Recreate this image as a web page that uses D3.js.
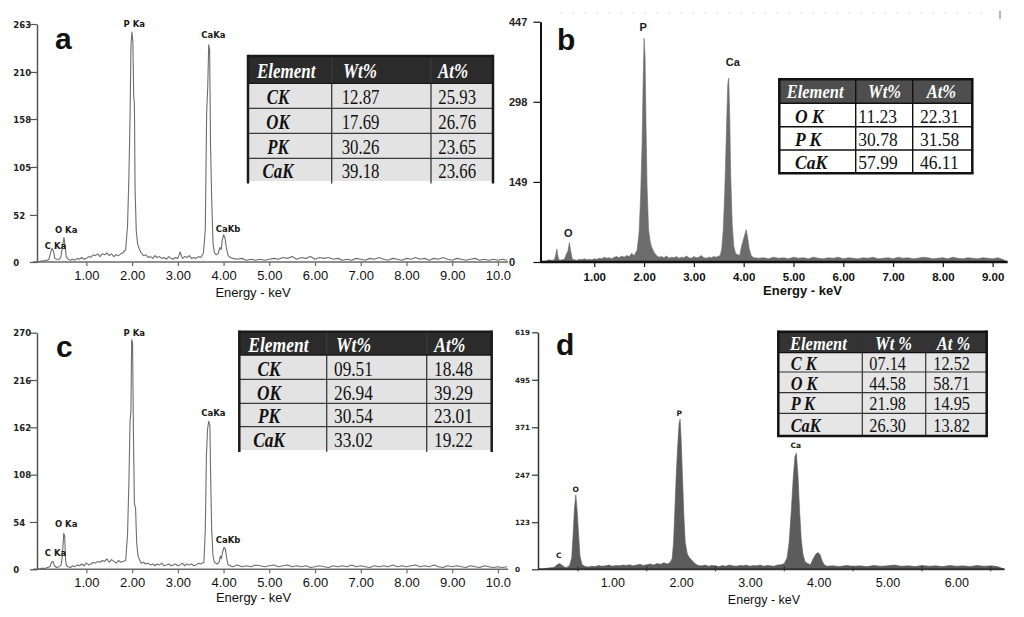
<!DOCTYPE html>
<html><head><meta charset="utf-8">
<script src="https://cdn.jsdelivr.net/npm/d3@7"></script>
<style>body{margin:0;background:#fff}svg{display:block}</style>
</head><body><svg id="c" width="1024" height="617"></svg>
<script>
// ---------------- DATA ----------------
// spectra: [energy keV, counts]
const specA = [[-0.05,0],[0.0,1],[0.05,1],[0.1,2],[0.15,2],[0.18,3],[0.22,11],[0.25,15],[0.28,12],[0.31,4],[0.35,3],[0.40,3],[0.44,5],[0.48,18],[0.51,27],[0.53,20],[0.56,6],[0.6,3],[0.65,2],[0.7,3],[0.75,2],[0.8,4],[0.85,3],[0.9,5],[0.95,3],[1.0,4],[1.05,6],[1.1,5],[1.15,8],[1.2,7],[1.25,9],[1.3,6],[1.35,9],[1.4,8],[1.45,10],[1.5,7],[1.55,9],[1.6,6],[1.65,8],[1.7,7],[1.75,9],[1.8,10],[1.86,14],[1.90,40],[1.93,95],[1.955,160],[1.975,240],[1.995,254],[2.015,245],[2.035,183],[2.05,175],[2.065,80],[2.09,35],[2.12,20],[2.16,14],[2.2,10],[2.25,7],[2.3,8],[2.35,5],[2.4,6],[2.45,4],[2.5,7],[2.55,5],[2.6,6],[2.65,4],[2.7,5],[2.75,3],[2.8,6],[2.85,4],[2.9,3],[2.95,5],[3.0,4],[3.05,11],[3.1,4],[3.15,6],[3.2,5],[3.25,7],[3.3,4],[3.35,5],[3.4,4],[3.45,6],[3.5,5],[3.56,10],[3.60,35],[3.63,165],[3.655,195],[3.675,240],[3.695,235],[3.715,130],[3.74,70],[3.77,20],[3.80,10],[3.84,8],[3.88,9],[3.92,16],[3.95,14],[3.97,24],[4.0,30],[4.03,27],[4.06,16],[4.1,7],[4.15,5],[4.2,4],[4.3,3],[4.4,4],[4.5,2],[4.6,3],[4.7,2],[4.8,3],[4.9,2],[5.0,3],[5.1,4],[5.2,3],[5.3,5],[5.4,4],[5.5,6],[5.6,3],[5.7,5],[5.8,4],[5.9,6],[6.0,3],[6.1,5],[6.2,4],[6.3,5],[6.4,3],[6.5,4],[6.6,2],[6.7,3],[6.8,2],[6.9,4],[7.0,3],[7.1,2],[7.2,4],[7.3,3],[7.4,5],[7.5,3],[7.6,2],[7.7,4],[7.8,3],[7.9,2],[8.0,4],[8.1,3],[8.2,5],[8.3,3],[8.4,4],[8.5,2],[8.6,4],[8.7,3],[8.8,5],[8.9,3],[9.0,2],[9.1,4],[9.2,3],[9.3,2],[9.4,3],[9.5,4],[9.6,2],[9.7,3],[9.8,2],[9.9,3],[10.0,2],[10.1,3],[10.2,2]];

const specB = [[0.0,0],[0.05,3],[0.1,4],[0.15,3],[0.2,4],[0.23,15],[0.25,24],[0.27,10],[0.30,3],[0.35,4],[0.4,5],[0.44,15],[0.47,20],[0.50,36],[0.53,18],[0.56,5],[0.6,4],[0.65,3],[0.7,5],[0.75,4],[0.8,6],[0.85,4],[0.9,5],[0.95,4],[1.0,6],[1.05,5],[1.1,7],[1.15,6],[1.2,9],[1.25,7],[1.3,8],[1.35,6],[1.4,9],[1.45,10],[1.5,8],[1.55,11],[1.6,9],[1.65,12],[1.7,10],[1.75,16],[1.8,12],[1.86,22],[1.90,55],[1.93,120],[1.96,220],[1.98,330],[2.0,416],[2.02,380],[2.04,250],[2.06,140],[2.09,60],[2.12,40],[2.15,28],[2.2,18],[2.25,12],[2.3,9],[2.35,10],[2.4,8],[2.45,11],[2.5,7],[2.55,9],[2.6,8],[2.65,10],[2.7,7],[2.75,9],[2.8,8],[2.85,11],[2.9,8],[2.95,7],[3.0,10],[3.05,8],[3.1,9],[3.15,12],[3.2,8],[3.25,7],[3.3,9],[3.35,8],[3.4,10],[3.45,9],[3.5,11],[3.53,12],[3.56,25],[3.59,60],[3.62,130],[3.65,230],[3.68,330],[3.70,342],[3.72,270],[3.74,160],[3.77,70],[3.80,30],[3.84,15],[3.88,14],[3.92,12],[3.96,30],[3.99,40],[4.02,50],[4.05,60],[4.08,45],[4.11,25],[4.15,12],[4.2,8],[4.3,7],[4.4,8],[4.5,6],[4.6,9],[4.7,7],[4.8,8],[4.9,6],[5.0,9],[5.1,7],[5.2,8],[5.3,6],[5.4,9],[5.5,7],[5.6,6],[5.7,8],[5.8,7],[5.9,9],[6.0,6],[6.1,8],[6.2,7],[6.3,6],[6.4,8],[6.5,7],[6.6,9],[6.7,6],[6.8,7],[6.9,8],[7.0,6],[7.1,9],[7.2,7],[7.3,8],[7.4,6],[7.5,7],[7.6,9],[7.7,8],[7.8,6],[7.9,7],[8.0,8],[8.1,6],[8.2,9],[8.3,7],[8.4,6],[8.5,8],[8.6,7],[8.7,6],[8.8,8],[8.9,7],[9.0,6],[9.1,8],[9.2,5],[9.3,0]];

const specC = [[-0.05,0],[0.0,1],[0.05,1],[0.1,1],[0.15,2],[0.2,3],[0.24,8],[0.27,9],[0.3,4],[0.35,2],[0.4,3],[0.45,5],[0.48,20],[0.505,41],[0.525,38],[0.545,10],[0.57,4],[0.6,3],[0.65,2],[0.7,4],[0.75,3],[0.8,5],[0.85,4],[0.9,6],[0.95,4],[1.0,7],[1.05,5],[1.1,6],[1.15,8],[1.2,7],[1.25,9],[1.3,8],[1.35,10],[1.4,9],[1.45,12],[1.5,8],[1.55,11],[1.6,9],[1.65,7],[1.7,10],[1.75,8],[1.8,9],[1.86,10],[1.9,40],[1.93,100],[1.955,170],[1.975,180],[1.99,262],[2.01,258],[2.03,150],[2.05,75],[2.075,70],[2.1,30],[2.13,15],[2.17,10],[2.2,7],[2.25,8],[2.3,6],[2.35,7],[2.4,5],[2.45,6],[2.5,4],[2.55,6],[2.6,5],[2.65,7],[2.7,4],[2.75,5],[2.8,6],[2.85,4],[2.9,5],[2.95,6],[3.0,4],[3.05,5],[3.1,7],[3.15,4],[3.2,6],[3.25,5],[3.3,6],[3.35,4],[3.4,5],[3.45,7],[3.5,6],[3.57,8],[3.60,45],[3.625,130],[3.65,160],[3.675,169],[3.70,165],[3.72,100],[3.74,45],[3.77,15],[3.80,8],[3.86,6],[3.9,8],[3.93,15],[3.95,12],[3.98,20],[4.01,25],[4.04,23],[4.07,12],[4.1,5],[4.15,4],[4.2,3],[4.3,5],[4.4,3],[4.5,4],[4.6,3],[4.7,5],[4.8,4],[4.9,3],[5.0,4],[5.1,5],[5.2,3],[5.3,4],[5.4,5],[5.5,3],[5.6,4],[5.7,3],[5.8,4],[5.9,2],[6.0,3],[6.1,4],[6.2,3],[6.3,2],[6.4,4],[6.5,3],[6.6,4],[6.7,3],[6.8,5],[6.9,3],[7.0,4],[7.1,3],[7.2,2],[7.3,4],[7.4,3],[7.5,4],[7.6,3],[7.7,5],[7.8,3],[7.9,4],[8.0,3],[8.1,4],[8.2,5],[8.3,3],[8.4,4],[8.5,3],[8.6,5],[8.7,3],[8.8,2],[8.9,4],[9.0,3],[9.1,4],[9.2,3],[9.3,2],[9.4,4],[9.5,3],[9.6,2],[9.7,4],[9.8,3],[9.9,2],[10.0,3],[10.1,2],[10.2,3]];

const specD = [[0.0,0],[0.05,3],[0.1,4],[0.15,5],[0.2,12],[0.23,15],[0.26,12],[0.3,6],[0.34,5],[0.38,10],[0.41,30],[0.43,90],[0.45,160],[0.47,194],[0.49,150],[0.51,90],[0.53,35],[0.56,12],[0.6,8],[0.65,6],[0.7,8],[0.75,7],[0.8,10],[0.85,8],[0.9,9],[0.95,11],[1.0,8],[1.05,10],[1.1,9],[1.15,11],[1.2,10],[1.25,12],[1.3,9],[1.35,11],[1.4,13],[1.45,10],[1.5,12],[1.55,14],[1.6,11],[1.65,15],[1.7,13],[1.75,17],[1.8,14],[1.84,18],[1.87,28],[1.89,70],[1.91,160],[1.93,250],[1.95,320],[1.97,380],[1.985,392],[2.0,340],[2.02,240],[2.04,140],[2.06,70],[2.09,40],[2.12,30],[2.15,25],[2.2,15],[2.25,10],[2.3,9],[2.35,11],[2.4,8],[2.45,10],[2.5,9],[2.55,7],[2.6,10],[2.65,8],[2.7,11],[2.75,9],[2.8,8],[2.85,10],[2.9,9],[2.95,11],[3.0,8],[3.05,10],[3.1,9],[3.15,11],[3.2,8],[3.25,10],[3.3,9],[3.35,8],[3.4,11],[3.45,12],[3.50,15],[3.54,30],[3.57,70],[3.60,150],[3.63,240],[3.655,295],[3.675,303],[3.70,240],[3.72,160],[3.745,80],[3.77,40],[3.80,20],[3.84,15],[3.88,12],[3.92,28],[3.96,40],[3.99,44],[4.02,38],[4.05,22],[4.08,12],[4.12,8],[4.2,9],[4.3,7],[4.4,10],[4.5,8],[4.6,9],[4.7,7],[4.8,10],[4.9,8],[5.0,9],[5.1,11],[5.2,8],[5.3,9],[5.4,7],[5.5,10],[5.6,8],[5.7,9],[5.8,7],[5.9,10],[6.0,8],[6.1,9],[6.2,7],[6.3,10],[6.4,8],[6.5,9],[6.6,7],[6.7,0]];

// axis ticks / labels
const yTicksA = [0,52,105,158,210,263];
const yTicksB = [0,149,298,447];
const yTicksC = [0,54,108,162,216,270];
const yTicksD = [0,123,247,371,495,619];
const xTicksAC = [1,2,3,4,5,6,7,8,9,10];
const xLabelsAC = ["1.00","2.00","3.00","4.00","5.00","6.00","7.00","8.00","9.00","10.0"];
const xTicksB = [1,2,3,4,5,6,7,8,9];
const xLabelsB = ["1.00","2.00","3.00","4.00","5.00","6.00","7.00","8.00","9.00"];
const xTicksD = [1,2,3,4,5,6];
const xLabelsD = ["1.00","2.00","3.00","4.00","5.00","6.00"];
const xMinorD = [0.5,1.5,2.5,3.5,4.5,5.5,6.5];
const axisTitle = "Energy - keV";
const panelLetters = ["a","b","c","d"];

// peak labels
const peaksAC = ["C Ka","O Ka","P Ka","CaKa","CaKb"];
const peaksB = ["O","P","Ca"];
const peaksD = ["C","O","P","Ca"];

// composition tables
const headAC = ["Element","Wt%","At%"];
const headB = ["Element","Wt%","At%"];
const headD = ["Element","Wt %","At %"];
const tabAElem = ["CK","OK","PK","CaK"], tabAWt = ["12.87","17.69","30.26","39.18"], tabAAt = ["25.93","26.76","23.65","23.66"];
const tabBElem = ["O K","P K","CaK"], tabBWt = ["11.23","30.78","57.99"], tabBAt = ["22.31","31.58","46.11"];
const tabCElem = ["CK","OK","PK","CaK"], tabCWt = ["09.51","26.94","30.54","33.02"], tabCAt = ["18.48","39.29","23.01","19.22"];
const tabDElem = ["C K","O K","P K","CaK"], tabDWt = ["07.14","44.58","21.98","26.30"], tabDAt = ["12.52","58.71","14.95","13.82"];

// ---------------- DRAWING ----------------
const svg = d3.select('#c');
svg.append('rect').attr('width',1024).attr('height',617).attr('fill','#fff');
const SANS = '"Liberation Sans", Arial, sans-serif';
const DJ = '"DejaVu Sans", sans-serif';
const SERIF = '"Liberation Serif", "Times New Roman", serif';

const panels = [
  {spec:specA, mode:'line', xDom:[-0.08,10.22], xRng:[37,508], yDom:[0,263], yRng:[262,24], yTicks:yTicksA,
   xTicks:xTicksAC, xLabels:xLabelsAC, xTickLen:4, yLabX:13.3, yFont:DJ, yFs:8.5, yW:'bold', yTick:7,
   xLabDy:18, xFs:13, xW:'normal', titleX:253, titleY:297, titleFs:13, titleW:'normal',
   letter:panelLetters[0], letX:55, letY:49.3, axisCol:'#555', axisW:1.5, xAxisCol:'#6a6a6a', xAxisW:1.5, xAxisX0:33,
   peaks:peaksAC, peakPos:[[0.324,14.0],[0.558,32.4],[2.048,259.4],[3.777,247.2],[4.098,32.8]], pFont:DJ, pFs:8.5},
  {spec:specB, mode:'area', xDom:[-0.08,9.3], xRng:[540.5,1007.6], yDom:[0,447], yRng:[262,21.7], yTicks:yTicksB,
   xTicks:xTicksB, xLabels:xLabelsB, xTickLen:5, yLabX:509, yFont:SANS, yFs:11, yW:'bold', yTick:7,
   xLabDy:19, xFs:11.5, xW:'bold', titleX:802.5, titleY:294.5, titleFs:13, titleW:'bold',
   letter:panelLetters[1], letX:557, letY:50, axisCol:'#111', axisW:2, xAxisCol:'#111', xAxisW:2.5, xAxisX0:540.5,
   peaks:peaksB, peakPos:[[0.478,47.1],[1.984,430.2],[3.781,365.1]], pFont:SANS, pFs:11, fill:'#6c6c6c'},
  {spec:specC, mode:'line', xDom:[-0.08,10.22], xRng:[37,508], yDom:[0,270], yRng:[569.3,332.7], yTicks:yTicksC,
   xTicks:xTicksAC, xLabels:xLabelsAC, xTickLen:4, yLabX:13.3, yFont:DJ, yFs:8.5, yW:'bold', yTick:7,
   xLabDy:17.3, xFs:13, xW:'normal', titleX:253.5, titleY:602, titleFs:13, titleW:'normal',
   letter:panelLetters[2], letX:56, letY:356.7, axisCol:'#555', axisW:1.5, xAxisCol:'#6a6a6a', xAxisW:1.5, xAxisX0:33,
   peaks:peaksAC, peakPos:[[0.324,15.2],[0.558,48.6],[2.048,266.2],[3.777,174.9],[4.098,29.7]], pFont:DJ, pFs:8.5},
  {spec:specD, mode:'area', xDom:[-0.08,6.7], xRng:[538,1004.5], yDom:[0,619], yRng:[569.3,332.3], yTicks:yTicksD,
   xTicks:xTicksD, xLabels:xLabelsD, xTickLen:0, yLabX:515, yFont:DJ, yFs:7.2, yW:'bold', yTick:6,
   xLabDy:17.3, xFs:12.5, xW:'normal', titleX:764, titleY:604, titleFs:12.5, titleW:'normal',
   letter:panelLetters[3], letX:556, letY:355, axisCol:'#333', axisW:1.5, xAxisCol:'#333', xAxisW:2, xAxisX0:538,
   peaks:peaksD, peakPos:[[0.221,28.7],[0.469,201.1],[1.972,400.4],[3.667,316.1]], pFont:DJ, pFs:7.5, fill:'#5c5c5c', minor:xMinorD}
];

panels.forEach(p => {
  const xs = d3.scaleLinear().domain(p.xDom).range(p.xRng);
  const ys = d3.scaleLinear().domain(p.yDom).range(p.yRng);
  const g = svg.append('g');
  // spectrum
  if (p.mode === 'line') {
    g.append('path').datum(p.spec)
      .attr('d', d3.line().x(d=>xs(d[0])).y(d=>ys(d[1])))
      .attr('fill','none').attr('stroke','#6e6e6e').attr('stroke-width',1.1).attr('stroke-linejoin','round');
  } else {
    g.append('path').datum(p.spec)
      .attr('d', d3.area().x(d=>xs(d[0])).y0(ys(0)).y1(d=>ys(d[1])))
      .attr('fill',p.fill).attr('stroke',p.fill).attr('stroke-width',0.6);
  }
  // x axis
  const xg = g.append('g').attr('transform',`translate(0,${p.yRng[0]})`)
    .call(d3.axisBottom(xs).tickValues(p.xTicks).tickSize(p.xTickLen).tickSizeOuter(0)
      .tickFormat((d,i)=>p.xLabels[i]));
  xg.select('.domain').remove();
  xg.selectAll('.tick line').attr('stroke',p.xAxisCol).attr('stroke-width',1.2);
  xg.append('line').attr('x1',p.xAxisX0).attr('x2',p.xRng[1]).attr('y1',0).attr('y2',0)
    .attr('stroke',p.xAxisCol).attr('stroke-width',p.xAxisW);
  xg.selectAll('text').attr('y',p.xLabDy).attr('dy',0)
    .attr('font-family',SANS).attr('font-size',p.xFs).attr('font-weight',p.xW).attr('fill','#111');
  if (p.minor) {
    xg.selectAll('line.minor').data(p.minor).enter().append('line')
      .attr('x1',d=>xs(d)).attr('x2',d=>xs(d)).attr('y1',-3).attr('y2',2)
      .attr('stroke','#333').attr('stroke-width',1.2);
  }
  // y axis
  const yg = g.append('g').attr('transform',`translate(${p.xRng[0]},0)`)
    .call(d3.axisLeft(ys).tickValues(p.yTicks).tickSize(p.yTick).tickSizeOuter(0).tickFormat(d3.format('d')));
  yg.select('.domain').attr('stroke',p.axisCol).attr('stroke-width',p.axisW);
  yg.selectAll('.tick line').attr('stroke',p.axisCol).attr('stroke-width',1.2);
  yg.selectAll('text').attr('text-anchor','start').attr('x',p.yLabX - p.xRng[0]).attr('dy','0.36em')
    .attr('font-family',p.yFont).attr('font-size',p.yFs).attr('font-weight',p.yW).attr('fill','#222');
  // axis title
  g.append('text').attr('x',p.titleX).attr('y',p.titleY).attr('text-anchor','middle')
    .attr('font-family',SANS).attr('font-size',p.titleFs).attr('font-weight',p.titleW).attr('fill','#111').text(axisTitle);
  // panel letter
  g.append('text').attr('x',p.letX).attr('y',p.letY).attr('font-family',SANS).attr('font-size',30)
    .attr('font-weight','bold').attr('fill','#111').text(p.letter);
  // peak labels
  p.peaks.forEach((t,i)=>{
    g.append('text').attr('x',xs(p.peakPos[i][0])).attr('y',ys(p.peakPos[i][1])).attr('text-anchor','middle')
      .attr('font-family',p.pFont).attr('font-size',p.pFs).attr('font-weight','bold').attr('fill','#1a1a1a').text(t);
  });
});

// faint marks at top of panel b
svg.append('line').attr('x1',560).attr('x2',990).attr('y1',13).attr('y2',13)
  .attr('stroke','#e4e4e4').attr('stroke-width',1).attr('stroke-dasharray','3,9');
svg.append('line').attr('x1',1000).attr('x2',1000).attr('y1',11).attr('y2',19)
  .attr('stroke','#999').attr('stroke-width',1.5);

// ---------------- TABLES ----------------
function drawTable(t) {
  const g = svg.append('g');
  const cx = t.colX, ry = t.rowY, n = ry.length - 1;
  g.append('rect').attr('x',cx[0]).attr('y',ry[1]).attr('width',cx[3]-cx[0]).attr('height',ry[n]-ry[1]).attr('fill',t.cellFill);
  g.append('rect').attr('x',cx[0]).attr('y',ry[0]).attr('width',cx[3]-cx[0]).attr('height',ry[1]-ry[0]).attr('fill',t.headFill);
  for (let i = 2; i < n; i++) {
    g.append('line').attr('x1',cx[0]).attr('x2',cx[3]).attr('y1',ry[i]).attr('y2',ry[i]).attr('stroke',t.gridCol).attr('stroke-width',t.gridW);
  }
  const yEnd = ry[n] + (t.tail || 0);
  [1,2].forEach(j=>{
    g.append('line').attr('x1',cx[j]).attr('x2',cx[j]).attr('y1',ry[0]).attr('y2',yEnd).attr('stroke',t.gridCol).attr('stroke-width',t.gridW);
  });
  const b = t.borderW;
  g.append('line').attr('x1',cx[0]).attr('x2',cx[3]).attr('y1',ry[0]).attr('y2',ry[0]).attr('stroke',t.borderCol).attr('stroke-width',b);
  g.append('line').attr('x1',cx[0]).attr('x2',cx[3]).attr('y1',ry[1]).attr('y2',ry[1]).attr('stroke',t.borderCol).attr('stroke-width',t.gridW);
  g.append('line').attr('x1',cx[0]).attr('x2',cx[0]).attr('y1',ry[0]-b/2).attr('y2',yEnd).attr('stroke',t.borderCol).attr('stroke-width',b);
  g.append('line').attr('x1',cx[3]).attr('x2',cx[3]).attr('y1',ry[0]-b/2).attr('y2',yEnd).attr('stroke',t.borderCol).attr('stroke-width',b);
  if (t.bottom) g.append('line').attr('x1',cx[0]-b/2).attr('x2',cx[3]+b/2).attr('y1',ry[n]).attr('y2',ry[n]).attr('stroke',t.borderCol).attr('stroke-width',b);

  function txt(x, y, s, fs, weight, style, fill, anchor) {
    g.append('text').attr('transform',`translate(${x},${y}) scale(1,${t.sy})`)
      .attr('font-family',SERIF).attr('font-size',fs).attr('font-weight',weight).attr('font-style',style)
      .attr('fill',fill).attr('text-anchor',anchor||'start').text(s);
  }
  const off = fs => 0.4*fs*t.sy;
  const hc = (ry[0]+ry[1])/2 + off(t.hfs);
  t.head.forEach((s,j)=> txt(t.headX[j], hc, s, t.hfs, 'bold', 'italic', '#fff'));
  t.elem.forEach((s,i)=>{
    const yc = (ry[i+1]+ry[i+2])/2 + off(t.fs);
    txt(t.elemX, yc, s, t.fs, 'bold', 'italic', '#111', t.elemAnchor);
    txt(t.valX[0], yc, t.wt[i], t.fs, 'normal', 'normal', '#111');
    txt(t.valX[1], yc, t.at[i], t.fs, 'normal', 'normal', '#111');
  });
}

drawTable({colX:[248,331.7,431,493], rowY:[56,83.3,108.3,133.3,158.3,181], tail:2.5, bottom:false,
  headFill:'#2b2b2b', cellFill:'#e3e3e3', gridCol:'#3a3a3a', gridW:1.3, borderCol:'#1a1a1a', borderW:2.5,
  sy:1.22, hfs:17, fs:16.8, head:headAC, headX:[257,343,438], elem:tabAElem, wt:tabAWt, at:tabAAt,
  elemX:278, elemAnchor:'middle', valX:[341.7,438.3]});
drawTable({colX:[779.3,855.7,912.7,972.3], rowY:[79.3,103.3,126.7,150,173.3], bottom:true,
  headFill:'#4e4e4e', cellFill:'#ffffff', gridCol:'#111', gridW:1.4, borderCol:'#111', borderW:2.5,
  sy:1.08, hfs:16.5, fs:17.5, head:headB, headX:[786.7,868,926.7], elem:tabBElem, wt:tabBWt, at:tabBAt,
  elemX:795, elemAnchor:'start', valX:[858.3,920]});
drawTable({colX:[239.3,326.7,426.7,491.7], rowY:[331.7,355,379.3,403.3,426.7,450], tail:2, bottom:false,
  headFill:'#2b2b2b', cellFill:'#e3e3e3', gridCol:'#3a3a3a', gridW:1.3, borderCol:'#1a1a1a', borderW:2.5,
  sy:1.22, hfs:17.5, fs:17.3, head:headAC, headX:[248.3,336,434.3], elem:tabCElem, wt:tabCWt, at:tabCAt,
  elemX:269, elemAnchor:'middle', valX:[334,434]});
drawTable({colX:[778.3,862.3,925.7,986.7], rowY:[331.7,352.7,372,392.7,413.3,436], bottom:true,
  headFill:'#333', cellFill:'#e6e6e6', gridCol:'#333', gridW:1.2, borderCol:'#111', borderW:2.5,
  sy:1.12, hfs:16.5, fs:16.3, head:headD, headX:[790,875,936.7], elem:tabDElem, wt:tabDWt, at:tabDAt,
  elemX:790.7, elemAnchor:'start', valX:[869.3,933.3]});
</script></body></html>
